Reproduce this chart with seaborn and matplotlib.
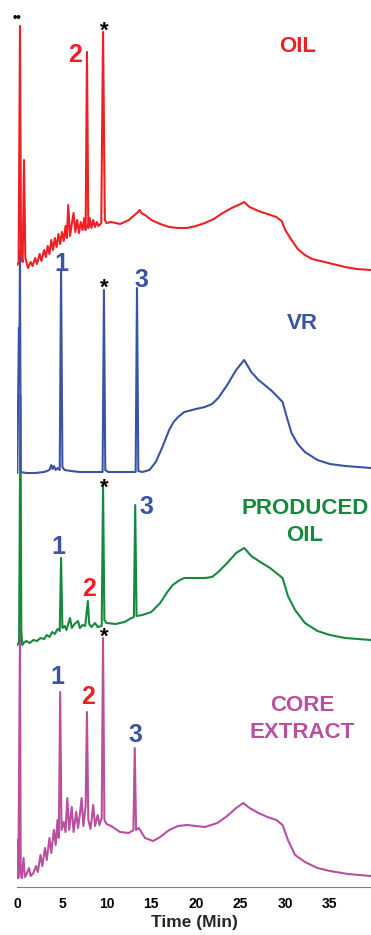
import pandas as pd
import matplotlib
matplotlib.use('Agg')
import matplotlib.pyplot as plt
import seaborn as sns

# Chromatogram traces: retention time (min) and detector signal above each trace's own baseline
oil_t = [0.0, 0.15, 0.3, 0.42, 0.6, 0.75, 0.9, 1.2, 1.5, 1.7, 2.0, 2.2, 2.5, 2.7, 3.0, 3.2, 3.4, 3.6, 3.8,
         4.0, 4.2, 4.4, 4.6, 4.8, 5.0, 5.2, 5.4, 5.55, 5.7, 5.9, 6.1, 6.3, 6.5, 6.7, 6.9, 7.1, 7.3, 7.5,
         7.65, 7.8, 7.95, 8.1, 8.3, 8.5, 8.7, 8.9, 9.1, 9.4, 9.6, 9.8, 10.0, 10.5, 11.0, 11.5, 12.0, 12.5,
         13.0, 13.4, 13.7, 13.9, 14.3, 15.0, 16.0, 17.0, 18.0, 19.0, 20.0, 21.0, 22.0, 23.0, 24.0, 25.0,
         25.4, 26.0, 27.0, 28.0, 29.0, 29.6, 30.0, 30.7, 31.4, 32.2, 33.0, 34.4, 36.7, 38.0, 39.6]
oil_sig = [5, 8, 244, 15, 8, 110, 12, 2, 8, 4, 12, 6, 16, 9, 20, 13, 24, 16, 30,
           20, 32, 23, 36, 26, 38, 29, 44, 32, 65, 34, 46, 57, 38, 50, 37, 48, 40, 52,
           40, 218, 42, 52, 42, 50, 43, 48, 44, 47, 238, 50, 47, 48, 47, 46, 48, 50,
           54, 57, 60, 57, 55, 50, 46, 43, 42, 42, 44, 47, 51, 57, 62, 66,
           68, 63, 59, 56, 53, 49, 40, 30, 21, 15, 11, 8, 3, 1, 0]

vr_t = [0.0, 0.18, 0.24, 0.3, 0.38, 1.0, 2.0, 3.0, 3.6, 3.8, 3.95, 4.1, 4.3, 4.5, 4.75, 4.9, 5.05, 5.3,
        6.0, 7.0, 8.0, 9.0, 9.55, 9.7, 9.85, 10.2, 11.0, 12.0, 13.25, 13.4, 13.55, 14.0, 14.8, 15.5,
        16.2, 17.0, 17.5, 18.0, 18.7, 20.0, 21.0, 21.8, 22.5, 23.5, 24.5, 25.4, 26.2, 27.0, 27.7, 28.5,
        29.7, 30.2, 30.7, 31.4, 32.2, 33.6, 35.0, 36.7, 39.6]
vr_sig = [-5, 140, 120, 218, -4, -5, -5, -4, -2, 3, -1, 2, -2, 0, -2, 198, 1, -2,
          -3, -4, -4, -4, -4, 178, -2, -4, -4, -4, -4, 180, -3, -4, -2, 6,
          20, 38, 46, 51, 56, 59, 61, 64, 70, 83, 98, 108, 96, 88, 83, 77,
          66, 50, 35, 24, 16, 8, 4, 2, 0]

prod_t = [0.0, 0.2, 0.35, 0.45, 0.55, 0.7, 1.0, 1.4, 1.8, 2.2, 2.6, 3.0, 3.3, 3.6, 3.9, 4.2, 4.5, 4.75,
          4.9, 5.05, 5.3, 5.5, 5.9, 6.1, 6.4, 6.8, 7.0, 7.3, 7.6, 7.9, 8.05, 8.3, 8.7, 9.0, 9.45, 9.6,
          9.75, 10.0, 11.0, 12.0, 12.8, 13.05, 13.2, 13.35, 14.0, 15.0, 16.0, 16.8, 17.4, 18.2, 18.7,
          20.0, 21.0, 21.8, 22.5, 23.5, 24.5, 25.4, 26.2, 27.2, 28.3, 29.7, 30.3, 31.1, 32.2, 33.6,
          35.0, 36.7, 39.6]
prod_sig = [-5, -2, 245, 10, -5, -3, -1, -3, 0, -1, 2, 1, 5, 3, 8, 6, 11, 9,
            82, 12, 14, 10, 22, 12, 16, 19, 12, 15, 14, 39, 16, 13, 17, 13, 14, 156,
            20, 17, 16, 18, 22, 23, 135, 24, 25, 28, 37, 48, 55, 60, 62,
            62, 62, 63, 68, 77, 87, 92, 84, 78, 72, 62, 44, 30, 17, 9,
            5, 2, 0]

core_t = [0.0, 0.05, 0.12, 0.3, 0.38, 0.5, 0.7, 0.85, 1.0, 1.3, 1.5, 1.8, 2.1, 2.3, 2.6, 2.8, 3.1, 3.3,
          3.6, 3.8, 4.1, 4.3, 4.5, 4.65, 4.8, 4.95, 5.2, 5.4, 5.6, 5.8, 6.1, 6.3, 6.6, 6.8, 7.0, 7.2,
          7.4, 7.65, 7.8, 7.95, 8.2, 8.5, 8.7, 9.0, 9.2, 9.45, 9.6, 9.75, 10.0, 10.5, 11.5, 12.5, 13.0,
          13.15, 13.3, 13.6, 14.3, 15.2, 16.0, 17.0, 18.0, 19.0, 20.0, 21.0, 22.4, 23.5, 24.5, 25.3,
          26.0, 27.0, 28.0, 29.0, 29.7, 30.3, 31.1, 32.2, 33.6, 35.0, 37.0, 39.6]
core_sig = [-2, 36, -2, 246, 4, -2, 18, -1, 1, 8, 0, 3, 10, 4, 21, 10, 28, 16,
            38, 23, 46, 31, 56, 38, 184, 46, 54, 44, 78, 46, 69, 44, 64, 48, 61, 78,
            50, 70, 164, 56, 47, 71, 50, 61, 51, 58, 238, 56, 52, 50, 44, 43, 46,
            128, 46, 48, 38, 35, 39, 46, 50, 51, 50, 49, 53, 60, 68, 73,
            68, 63, 59, 56, 51, 36, 21, 14, 8, 5, 2, 0]

samples = ['CORE EXTRACT', 'PRODUCED OIL', 'VR', 'OIL']
x_ticks = [0, 5, 10, 15, 20, 25, 30, 35]

RED, BLUE, GREEN, MAGENTA = '#ED2024', '#3A53A4', '#17893D', '#B9509F'
palette = {'OIL': RED, 'VR': BLUE, 'PRODUCED OIL': GREEN, 'CORE EXTRACT': MAGENTA}
offsets = {'OIL': 617, 'VR': 419, 'PRODUCED OIL': 247, 'CORE EXTRACT': 11}

frames = []
for name, t, s in [('OIL', oil_t, oil_sig), ('VR', vr_t, vr_sig),
                   ('PRODUCED OIL', prod_t, prod_sig), ('CORE EXTRACT', core_t, core_sig)]:
    frames.append(pd.DataFrame({'time': t, 'signal': s, 'sample': name}))
df = pd.concat(frames, ignore_index=True)
df['y'] = df['signal'] + df['sample'].map(offsets)

sns.set_style('white')
plt.rcParams['font.family'] = ['Liberation Sans', 'DejaVu Sans']
plt.rcParams['font.weight'] = 'bold'

fig = plt.figure(figsize=(3.71, 9.35), dpi=100)
ax = fig.add_axes([17.3 / 371, 48 / 935, 1 - 17.3 / 371, 887 / 935])

sns.lineplot(data=df, x='time', y='y', hue='sample', hue_order=samples, palette=palette,
             estimator=None, sort=False, linewidth=1.5, legend=False, ax=ax)

ax.set_xlim(0, 39.6)
ax.set_ylim(0, 887)
for side in ['left', 'top', 'right']:
    ax.spines[side].set_visible(False)
ax.spines['bottom'].set_color('#808080')
ax.spines['bottom'].set_linewidth(0.8)
ax.set_xticks(x_ticks)
ax.set_xticklabels([str(v) for v in x_ticks], fontweight='bold')
ax.set_yticks([])
ax.tick_params(axis='x', direction='in', length=3, width=0.8, color='#808080', pad=7,
               labelsize=10, labelcolor='black')
ax.set_xlabel('Time (Min)', fontsize=12.5, fontweight='bold', labelpad=3)
ax.set_ylabel('')

# peak markers and sample names
ax.text(-0.07, 869, '••', fontsize=9, color='black', ha='center', va='center')
notes = [
    ('*', 9.70, 866, 'black', 16), ('2', 6.46, 844, RED, 18), ('OIL', 31.4, 851, RED, 16),
    ('1', 4.89, 635, BLUE, 18), ('*', 9.78, 609, 'black', 16), ('3', 13.92, 619, BLUE, 18),
    ('VR', 31.9, 574, BLUE, 16),
    ('*', 9.70, 409, 'black', 16), ('1', 4.63, 352, BLUE, 18), ('2', 8.03, 310, RED, 18),
    ('3', 14.5, 392, BLUE, 18), ('PRODUCED', 32.2, 389, GREEN, 16), ('OIL', 32.2, 362, GREEN, 16),
    ('*', 9.70, 260, 'black', 16), ('1', 4.5, 222, BLUE, 18), ('2', 7.95, 202, RED, 18),
    ('3', 13.27, 164, BLUE, 18), ('CORE', 31.9, 192, MAGENTA, 16), ('EXTRACT', 31.9, 165, MAGENTA, 16),
]
for txt, x, y, c, fs in notes:
    ax.text(x, y, txt, color=c, fontsize=fs, fontweight='bold', ha='center', va='top')

fig.savefig('out.png', dpi=100)
